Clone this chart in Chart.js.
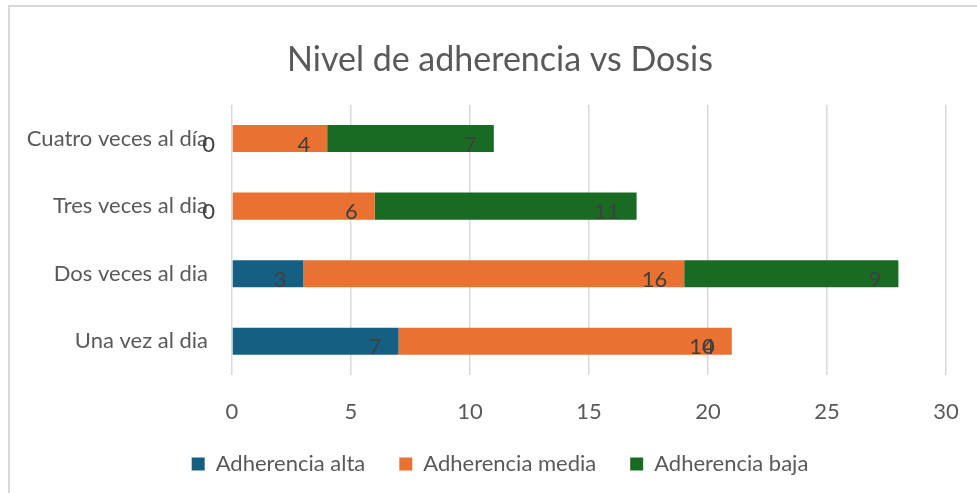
<!DOCTYPE html>
<html>
<head>
<meta charset="utf-8">
<script src="https://cdn.jsdelivr.net/npm/chart.js@4"></script>
<style>
    body { margin: 0; background: #ffffff; overflow: hidden; }
    #wrap { position: relative; width: 977px; height: 493px; }
    canvas { display: block; }
</style>
</head>
<body>
<div id="wrap"><canvas id="adherenceChart"></canvas></div>
<script>
// Chart values (top row first)
const categories = ["Cuatro veces al día", "Tres veces al dia", "Dos veces al dia", "Una vez al dia"];
const seriesNames = ["Adherencia alta", "Adherencia media", "Adherencia baja"];
const altaValues = [0, 0, 3, 7];
const mediaValues = [4, 6, 16, 14];
const bajaValues = [7, 11, 9, 0];
const xTicks = [0, 5, 10, 15, 20, 25, 30];

const seriesColors = ["#156082", "#E97132", "#196B24"];
const fontFamily = "Lato, 'Liberation Sans', sans-serif";

// Light gray frame around the chart
const framePlugin = {
    id: "frame",
    beforeDraw(chart) {
        const ctx = chart.ctx;
        ctx.save();
        ctx.strokeStyle = "#d9d9d9";
        ctx.lineWidth = 2;
        ctx.beginPath();
        ctx.moveTo(9, 493);
        ctx.lineTo(9, 6);
        ctx.lineTo(977, 6);
        ctx.stroke();
        ctx.restore();
    },
    // let the category labels run into the left padding (no clipping)
    afterLayout(chart) {
        chart.scales.y.left = 0;
    }
};

// Value labels inside the end of each segment
const valueLabelPlugin = {
    id: "valueLabels",
    afterDatasetsDraw(chart) {
        const ctx = chart.ctx;
        ctx.save();
        ctx.font = "22px " + fontFamily;
        ctx.fillStyle = "#404040";
        ctx.textAlign = "right";
        ctx.textBaseline = "middle";
        chart.data.datasets.forEach((ds, i) => {
            const meta = chart.getDatasetMeta(i);
            meta.data.forEach((bar, j) => {
                ctx.fillText(String(ds.data[j]), bar.x - 17, bar.y + 6);
            });
        });
        ctx.restore();
    }
};

new Chart(document.getElementById("adherenceChart"), {
    type: "bar",
    data: {
        labels: categories,
        datasets: [
            { label: seriesNames[0], data: altaValues, backgroundColor: seriesColors[0] },
            { label: seriesNames[1], data: mediaValues, backgroundColor: seriesColors[1] },
            { label: seriesNames[2], data: bajaValues, backgroundColor: seriesColors[2] }
        ]
    },
    options: {
        indexAxis: "y",
        responsive: true,
        maintainAspectRatio: false,
        animation: false,
        categoryPercentage: 1,
        barPercentage: 0.4,
        layout: { padding: { left: 54, right: 31, top: 0, bottom: 8 } },
        plugins: {
            title: {
                display: true,
                text: "Nivel de adherencia vs Dosis",
                color: "#595959",
                font: { family: fontFamily, size: 34, weight: "normal" },
                padding: { top: 40, bottom: 24 }
            },
            legend: {
                position: "bottom",
                labels: {
                    color: "#595959",
                    font: { family: fontFamily, size: 22 },
                    boxWidth: 13,
                    boxHeight: 13,
                    padding: 34
                }
            },
            tooltip: { enabled: false }
        },
        scales: {
            x: {
                stacked: true,
                min: 0,
                max: 30,
                afterBuildTicks: (scale) => {
                    scale.ticks = xTicks.map(v => ({ value: v }));
                },
                afterFit: (scale) => {
                    scale.height = 44;
                    scale.paddingLeft = 0;
                    scale.paddingRight = 0;
                },
                grid: { color: "#d9d9d9", lineWidth: 1.5, drawTicks: false },
                border: { display: false },
                ticks: {
                    color: "#595959",
                    padding: 24,
                    font: { family: fontFamily, size: 22 }
                }
            },
            y: {
                stacked: true,
                afterFit: (scale) => { scale.width = 178; },
                grid: { display: false, drawTicks: false },
                border: { display: false },
                ticks: {
                    color: "#595959",
                    padding: 24,
                    font: { family: fontFamily, size: 22 }
                }
            }
        }
    },
    plugins: [framePlugin, valueLabelPlugin]
});
</script>
</body>
</html>
